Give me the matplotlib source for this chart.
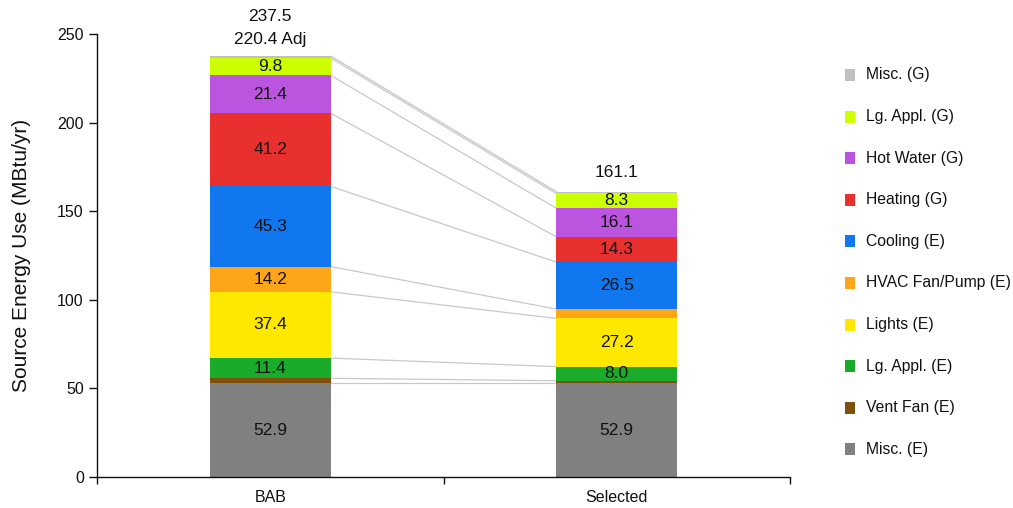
import matplotlib
matplotlib.use("Agg")
import matplotlib.pyplot as plt
from matplotlib.patches import Rectangle

plt.rcParams['font.family'] = ['Liberation Sans', 'DejaVu Sans']

# Scenarios and end uses (stacked bottom to top)
scenarios = ["BAB", "Selected"]
end_uses = ["Misc. (E)", "Vent Fan (E)", "Lg. Appl. (E)", "Lights (E)",
            "HVAC Fan/Pump (E)", "Cooling (E)", "Heating (G)", "Hot Water (G)",
            "Lg. Appl. (G)", "Misc. (G)"]
colors = ["#808080", "#7f4f0c", "#1aab2a", "#ffe800",
          "#ffa51a", "#1177ee", "#e8302e", "#bb55e0",
          "#ccff00", "#c0c0c0"]

# Source energy use by end use, MBtu/yr
bab_values = [52.9, 2.8, 11.4, 37.4, 14.2, 45.3, 41.2, 21.4, 9.8, 1.1]
selected_values = [52.9, 1.4, 8.0, 27.2, 5.3, 26.5, 14.3, 16.1, 8.3, 1.1]
totals = [237.5, 161.1]
bab_adjusted = 220.4

series = [bab_values, selected_values]
label_min = 6.0
text_color = "#111111"
value_size = 12.5

fig = plt.figure(figsize=(10.13, 5.08), dpi=100)
ax = fig.add_axes([97 / 1013, 1 - 477 / 508, (790 - 97) / 1013, (477 - 34) / 508])

centers = [0.5, 1.5]
width = 0.35
tops = []
for c, vals in zip(centers, series):
    bottom = 0.0
    edges = []
    for v, col in zip(vals, colors):
        ax.bar(c, v, width=width, bottom=bottom, color=col, linewidth=0)
        if v >= label_min:
            ax.text(c, bottom + v / 2, f"{v:.1f}", ha="center", va="center",
                    fontsize=value_size, color=text_color)
        bottom += v
        edges.append(bottom)
    tops.append(edges)

# Connectors between matching segment boundaries
for y0, y1 in zip(tops[0], tops[1]):
    ax.plot([centers[0] + width / 2, centers[1] - width / 2], [y0, y1],
            color="#c8c8c8", linewidth=0.9, zorder=0)

# Totals above the bars
ax.annotate(f"{totals[0]:.1f}", (centers[0], totals[0]), xytext=(0, 32),
            textcoords="offset pixels", ha="center", va="bottom",
            fontsize=value_size, color=text_color, annotation_clip=False)
ax.annotate(f"{bab_adjusted:.1f} Adj", (centers[0], totals[0]), xytext=(0, 9),
            textcoords="offset pixels", ha="center", va="bottom",
            fontsize=value_size, color=text_color, annotation_clip=False)
ax.annotate(f"{totals[1]:.1f}", (centers[1], totals[1]), xytext=(0, 12),
            textcoords="offset pixels", ha="center", va="bottom",
            fontsize=value_size, color=text_color, annotation_clip=False)

ax.set_xlim(0, 2)
ax.set_ylim(0, 250)
ax.set_yticks([0, 50, 100, 150, 200, 250])
ax.tick_params(axis="y", length=6, width=1, labelsize=11.5, colors=text_color)
ax.set_xticks([0, 1, 2])
ax.set_xticklabels(["", "", ""])
ax.tick_params(axis="x", which="major", length=5, width=1, colors=text_color)
ax.set_xticks(centers, minor=True)
ax.set_xticklabels(scenarios, minor=True)
ax.tick_params(axis="x", which="minor", length=0, pad=9, labelsize=11.5,
               colors=text_color)
for side in ("top", "right"):
    ax.spines[side].set_visible(False)
for side in ("left", "bottom"):
    ax.spines[side].set_linewidth(1)
    ax.spines[side].set_color(text_color)
ax.set_ylabel("Source Energy Use (MBtu/yr)", fontsize=15, color=text_color,
              labelpad=19)

# Legend, top entry first
legend_top = 75
step = 41.6
for i, (name, col) in enumerate(zip(end_uses[::-1], colors[::-1])):
    yc = legend_top + i * step
    fig.add_artist(Rectangle((845 / 1013, 1 - (yc + 6) / 508), 10 / 1013, 12 / 508,
                             transform=fig.transFigure, color=col, linewidth=0))
    fig.text(866 / 1013, 1 - yc / 508, name, ha="left", va="center",
             fontsize=11.3, color=text_color)

fig.savefig("out.png", dpi=100)
